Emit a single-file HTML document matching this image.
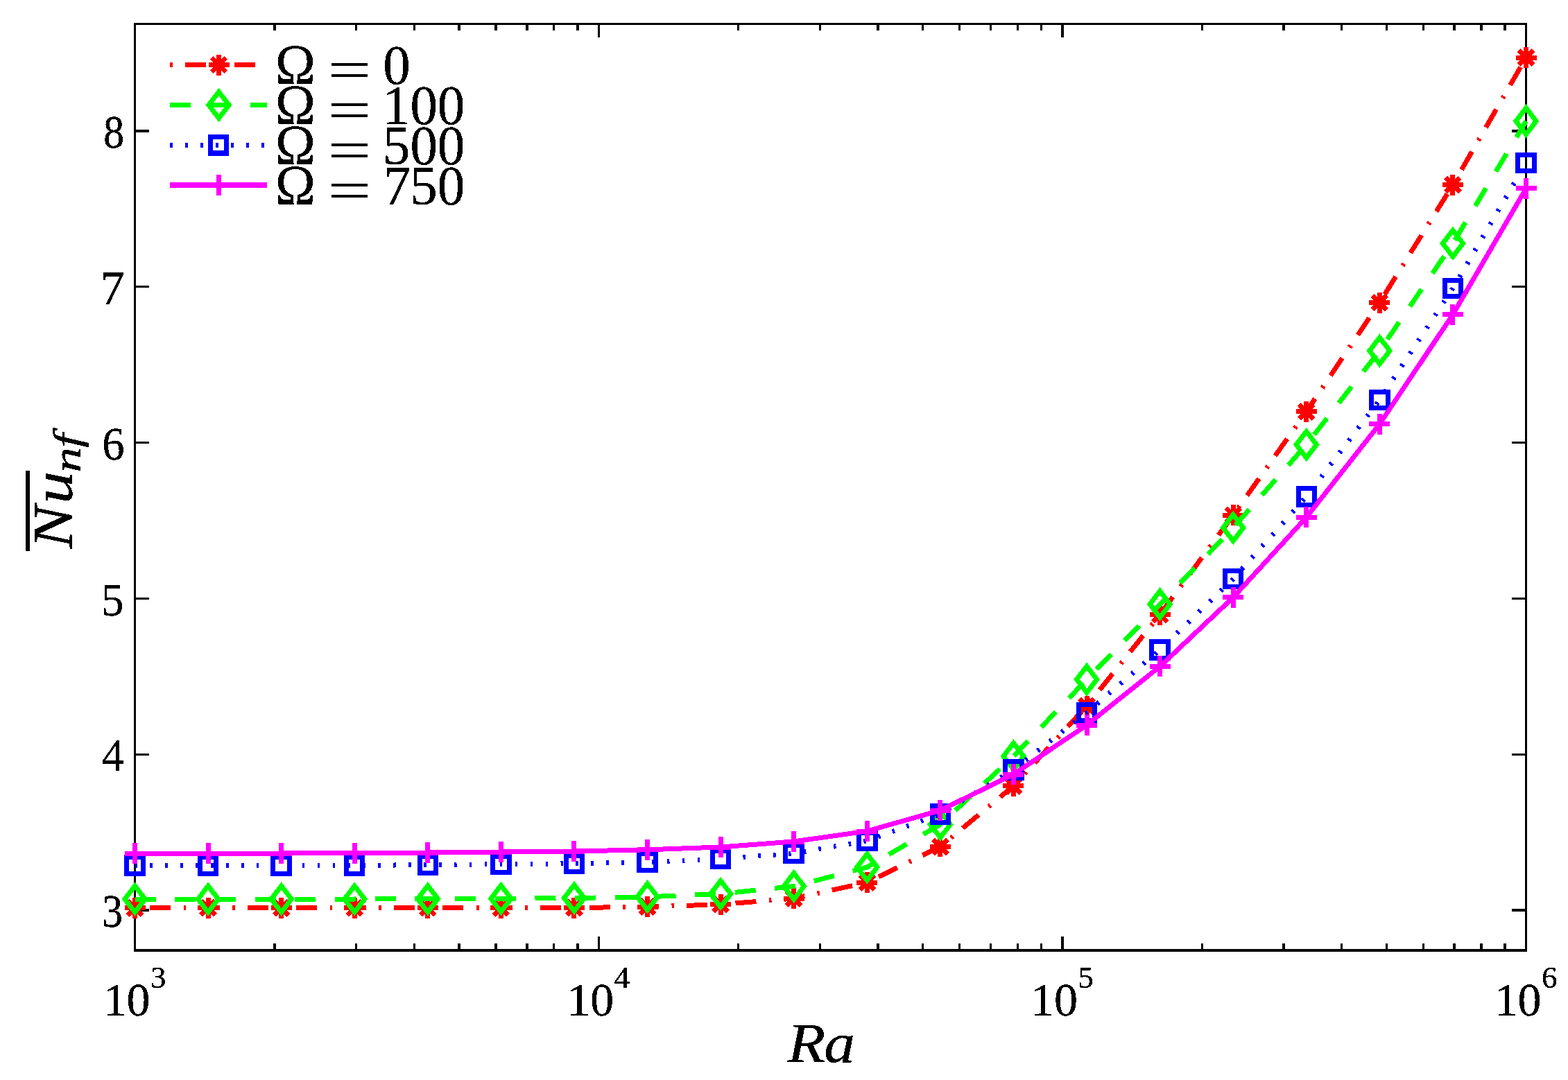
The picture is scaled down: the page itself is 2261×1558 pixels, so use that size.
<!DOCTYPE html>
<html lang="en"><head><meta charset="utf-8"><title>Average Nusselt number versus Ra</title>
<style>
html,body{margin:0;padding:0;background:#fff}
body{width:2261px;height:1558px}
svg{display:block}
.t{font-family:"Liberation Serif","DejaVu Serif",serif;fill:#000}
.i{font-style:italic}
</style></head><body>
<svg width="2261" height="1558" viewBox="0 0 2261 1558">
<defs><filter id="bw" x="0" y="0" width="2261" height="1558" filterUnits="userSpaceOnUse" color-interpolation-filters="sRGB"><feComponentTransfer><feFuncA type="discrete" tableValues="0 1 1 1"/></feComponentTransfer></filter></defs>
<rect width="2261" height="1558" fill="#fff"/>
<g id="axes" fill="#000" shape-rendering="crispEdges">
<rect x="193" y="33" width="3" height="1340"/>
<rect x="2199" y="33" width="3" height="1340"/>
<rect x="193" y="33" width="2009" height="3"/>
<rect x="193" y="1369" width="2009" height="4"/>
<rect x="394.34" y="1361" width="3.4" height="10"/>
<rect x="394.34" y="34" width="3.4" height="10"/>
<rect x="512.09" y="1361" width="3.4" height="10"/>
<rect x="512.09" y="34" width="3.4" height="10"/>
<rect x="595.63" y="1361" width="3.4" height="10"/>
<rect x="595.63" y="34" width="3.4" height="10"/>
<rect x="660.43" y="1361" width="3.4" height="10"/>
<rect x="660.43" y="34" width="3.4" height="10"/>
<rect x="713.37" y="1361" width="3.4" height="10"/>
<rect x="713.37" y="34" width="3.4" height="10"/>
<rect x="758.14" y="1361" width="3.4" height="10"/>
<rect x="758.14" y="34" width="3.4" height="10"/>
<rect x="796.92" y="1361" width="3.4" height="10"/>
<rect x="796.92" y="34" width="3.4" height="10"/>
<rect x="831.12" y="1361" width="3.4" height="10"/>
<rect x="831.12" y="34" width="3.4" height="10"/>
<rect x="861.72" y="1351" width="3.4" height="20"/>
<rect x="861.72" y="34" width="3.4" height="20"/>
<rect x="1063.01" y="1361" width="3.4" height="10"/>
<rect x="1063.01" y="34" width="3.4" height="10"/>
<rect x="1180.75" y="1361" width="3.4" height="10"/>
<rect x="1180.75" y="34" width="3.4" height="10"/>
<rect x="1264.29" y="1361" width="3.4" height="10"/>
<rect x="1264.29" y="34" width="3.4" height="10"/>
<rect x="1329.09" y="1361" width="3.4" height="10"/>
<rect x="1329.09" y="34" width="3.4" height="10"/>
<rect x="1382.04" y="1361" width="3.4" height="10"/>
<rect x="1382.04" y="34" width="3.4" height="10"/>
<rect x="1426.81" y="1361" width="3.4" height="10"/>
<rect x="1426.81" y="34" width="3.4" height="10"/>
<rect x="1465.58" y="1361" width="3.4" height="10"/>
<rect x="1465.58" y="34" width="3.4" height="10"/>
<rect x="1499.79" y="1361" width="3.4" height="10"/>
<rect x="1499.79" y="34" width="3.4" height="10"/>
<rect x="1530.38" y="1351" width="3.4" height="20"/>
<rect x="1530.38" y="34" width="3.4" height="20"/>
<rect x="1731.67" y="1361" width="3.4" height="10"/>
<rect x="1731.67" y="34" width="3.4" height="10"/>
<rect x="1849.42" y="1361" width="3.4" height="10"/>
<rect x="1849.42" y="34" width="3.4" height="10"/>
<rect x="1932.96" y="1361" width="3.4" height="10"/>
<rect x="1932.96" y="34" width="3.4" height="10"/>
<rect x="1997.76" y="1361" width="3.4" height="10"/>
<rect x="1997.76" y="34" width="3.4" height="10"/>
<rect x="2050.71" y="1361" width="3.4" height="10"/>
<rect x="2050.71" y="34" width="3.4" height="10"/>
<rect x="2095.47" y="1361" width="3.4" height="10"/>
<rect x="2095.47" y="34" width="3.4" height="10"/>
<rect x="2134.25" y="1361" width="3.4" height="10"/>
<rect x="2134.25" y="34" width="3.4" height="10"/>
<rect x="2168.45" y="1361" width="3.4" height="10"/>
<rect x="2168.45" y="34" width="3.4" height="10"/>
<rect x="194" y="187" width="21" height="4"/>
<rect x="2180" y="187" width="21" height="4"/>
<rect x="194" y="412" width="21" height="3"/>
<rect x="2180" y="412" width="21" height="3"/>
<rect x="194" y="637" width="21" height="3"/>
<rect x="2180" y="637" width="21" height="3"/>
<rect x="194" y="862" width="21" height="3"/>
<rect x="2180" y="862" width="21" height="3"/>
<rect x="194" y="1087" width="21" height="3"/>
<rect x="2180" y="1087" width="21" height="3"/>
<rect x="194" y="1311" width="21" height="4"/>
<rect x="2180" y="1311" width="21" height="4"/>
</g>
<g id="ticklabels" class="t" filter="url(#bw)">
<text transform="matrix(0.8740 0 0 0.9913 149.14 212.93)" font-size="68">8</text>
<text transform="matrix(1.0421 0 0 1.0216 144.52 438.80)" font-size="68">7</text>
<text transform="matrix(0.9505 0 0 1.0067 147.32 663.02)" font-size="68">6</text>
<text transform="matrix(0.9451 0 0 1.0084 146.37 888.21)" font-size="68">5</text>
<text transform="matrix(0.9445 0 0 0.9968 146.82 1111.80)" font-size="68">4</text>
<text transform="matrix(0.8795 0 0 1.0001 147.23 1337.22)" font-size="68">3</text>
<text x="148.9 182.6" y="1465" font-size="68">10<tspan x="216.9" dy="-40.3" font-size="45">3</tspan></text>
<text x="817.57 851.27" y="1465" font-size="68">10<tspan x="885.57" dy="-40.3" font-size="45">4</tspan></text>
<text x="1486.23 1519.93" y="1465" font-size="68">10<tspan x="1554.23" dy="-40.3" font-size="45">5</tspan></text>
<text x="2154.9 2188.6" y="1465" font-size="68">10<tspan x="2222.9" dy="-40.3" font-size="45">6</tspan></text>
</g>
<g id="axislabels" class="t i" filter="url(#bw)">
<text transform="matrix(1.1200 0 0 0.9938 1135.51 1532.00)" x="0 47.05" y="0" font-size="80">Ra</text>
<g transform="translate(103.4 800) rotate(-90)">
<text transform="matrix(1.1750 0 0 0.9938 8.32 -0.20)" x="0 55.34" y="0" font-size="80">Nu</text><text transform="matrix(1.3000 0 0 0.9750 118.62 11.80)" x="0 27.4" y="0" font-size="56">nf</text>
<rect x="5" y="-66.4" width="116" height="5" fill="#000" shape-rendering="crispEdges"/>
</g>
</g>
<g id="data" shape-rendering="crispEdges" stroke-linecap="butt" stroke-linejoin="miter">
<g>
<polyline points="194.5,1309.8 300.08,1309.8 405.66,1309.8 511.24,1309.8 616.82,1309.8 722.39,1309.8 827.97,1309.6 933.55,1308.1 1039.13,1304.8 1144.71,1296 1250.29,1273 1355.87,1221.4 1461.45,1133.8 1567.03,1018.5 1672.61,886.6 1778.18,743.2 1883.76,593.8 1989.34,436.5 2094.92,266.8 2200.5,83" fill="none" stroke="#f00" stroke-width="7" stroke-dasharray="3.5 18.25 30 18.62"/>
<path d="M179.5 1309.8H209.5M194.5 1294.8V1324.8M184.1 1299.4L204.9 1320.2M184.1 1320.2L204.9 1299.4" stroke="#f00" stroke-width="7" fill="none"/>
<path d="M285.08 1309.8H315.08M300.08 1294.8V1324.8M289.68 1299.4L310.48 1320.2M289.68 1320.2L310.48 1299.4" stroke="#f00" stroke-width="7" fill="none"/>
<path d="M390.66 1309.8H420.66M405.66 1294.8V1324.8M395.26 1299.4L416.06 1320.2M395.26 1320.2L416.06 1299.4" stroke="#f00" stroke-width="7" fill="none"/>
<path d="M496.24 1309.8H526.24M511.24 1294.8V1324.8M500.84 1299.4L521.64 1320.2M500.84 1320.2L521.64 1299.4" stroke="#f00" stroke-width="7" fill="none"/>
<path d="M601.82 1309.8H631.82M616.82 1294.8V1324.8M606.42 1299.4L627.22 1320.2M606.42 1320.2L627.22 1299.4" stroke="#f00" stroke-width="7" fill="none"/>
<path d="M707.39 1309.8H737.39M722.39 1294.8V1324.8M711.99 1299.4L732.79 1320.2M711.99 1320.2L732.79 1299.4" stroke="#f00" stroke-width="7" fill="none"/>
<path d="M812.97 1309.6H842.97M827.97 1294.6V1324.6M817.57 1299.2L838.37 1320M817.57 1320L838.37 1299.2" stroke="#f00" stroke-width="7" fill="none"/>
<path d="M918.55 1308.1H948.55M933.55 1293.1V1323.1M923.15 1297.7L943.95 1318.5M923.15 1318.5L943.95 1297.7" stroke="#f00" stroke-width="7" fill="none"/>
<path d="M1024.13 1304.8H1054.13M1039.13 1289.8V1319.8M1028.73 1294.4L1049.53 1315.2M1028.73 1315.2L1049.53 1294.4" stroke="#f00" stroke-width="7" fill="none"/>
<path d="M1129.71 1296H1159.71M1144.71 1281V1311M1134.31 1285.6L1155.11 1306.4M1134.31 1306.4L1155.11 1285.6" stroke="#f00" stroke-width="7" fill="none"/>
<path d="M1235.29 1273H1265.29M1250.29 1258V1288M1239.89 1262.6L1260.69 1283.4M1239.89 1283.4L1260.69 1262.6" stroke="#f00" stroke-width="7" fill="none"/>
<path d="M1340.87 1221.4H1370.87M1355.87 1206.4V1236.4M1345.47 1211L1366.27 1231.8M1345.47 1231.8L1366.27 1211" stroke="#f00" stroke-width="7" fill="none"/>
<path d="M1446.45 1133.8H1476.45M1461.45 1118.8V1148.8M1451.05 1123.4L1471.85 1144.2M1451.05 1144.2L1471.85 1123.4" stroke="#f00" stroke-width="7" fill="none"/>
<path d="M1552.03 1018.5H1582.03M1567.03 1003.5V1033.5M1556.63 1008.1L1577.43 1028.9M1556.63 1028.9L1577.43 1008.1" stroke="#f00" stroke-width="7" fill="none"/>
<path d="M1657.61 886.6H1687.61M1672.61 871.6V901.6M1662.21 876.2L1683.01 897M1662.21 897L1683.01 876.2" stroke="#f00" stroke-width="7" fill="none"/>
<path d="M1763.18 743.2H1793.18M1778.18 728.2V758.2M1767.78 732.8L1788.58 753.6M1767.78 753.6L1788.58 732.8" stroke="#f00" stroke-width="7" fill="none"/>
<path d="M1868.76 593.8H1898.76M1883.76 578.8V608.8M1873.36 583.4L1894.16 604.2M1873.36 604.2L1894.16 583.4" stroke="#f00" stroke-width="7" fill="none"/>
<path d="M1974.34 436.5H2004.34M1989.34 421.5V451.5M1978.94 426.1L1999.74 446.9M1978.94 446.9L1999.74 426.1" stroke="#f00" stroke-width="7" fill="none"/>
<path d="M2079.92 266.8H2109.92M2094.92 251.8V281.8M2084.52 256.4L2105.32 277.2M2084.52 277.2L2105.32 256.4" stroke="#f00" stroke-width="7" fill="none"/>
<path d="M2185.5 83H2215.5M2200.5 68V98M2190.1 72.6L2210.9 93.4M2190.1 93.4L2210.9 72.6" stroke="#f00" stroke-width="7" fill="none"/>
</g>
<g>
<polyline points="194.5,1297 300.08,1297 405.66,1297 511.24,1297 616.82,1296.7 722.39,1296.3 827.97,1295.5 933.55,1293.8 1039.13,1289.5 1144.71,1278.5 1250.29,1251 1355.87,1189.3 1461.45,1091 1567.03,980.2 1672.61,871.7 1778.18,761.4 1883.76,641.4 1989.34,506 2094.92,351.2 2200.5,174.8" fill="none" stroke="#0f0" stroke-width="7" stroke-dasharray="30 27.7"/>
<path d="M194.5 1278L209.1 1297L194.5 1316L179.9 1297Z" stroke="#0f0" stroke-width="7" stroke-miterlimit="10" fill="none"/>
<path d="M300.08 1278L314.68 1297L300.08 1316L285.48 1297Z" stroke="#0f0" stroke-width="7" stroke-miterlimit="10" fill="none"/>
<path d="M405.66 1278L420.26 1297L405.66 1316L391.06 1297Z" stroke="#0f0" stroke-width="7" stroke-miterlimit="10" fill="none"/>
<path d="M511.24 1278L525.84 1297L511.24 1316L496.64 1297Z" stroke="#0f0" stroke-width="7" stroke-miterlimit="10" fill="none"/>
<path d="M616.82 1277.7L631.42 1296.7L616.82 1315.7L602.22 1296.7Z" stroke="#0f0" stroke-width="7" stroke-miterlimit="10" fill="none"/>
<path d="M722.39 1277.3L736.99 1296.3L722.39 1315.3L707.79 1296.3Z" stroke="#0f0" stroke-width="7" stroke-miterlimit="10" fill="none"/>
<path d="M827.97 1276.5L842.57 1295.5L827.97 1314.5L813.37 1295.5Z" stroke="#0f0" stroke-width="7" stroke-miterlimit="10" fill="none"/>
<path d="M933.55 1274.8L948.15 1293.8L933.55 1312.8L918.95 1293.8Z" stroke="#0f0" stroke-width="7" stroke-miterlimit="10" fill="none"/>
<path d="M1039.13 1270.5L1053.73 1289.5L1039.13 1308.5L1024.53 1289.5Z" stroke="#0f0" stroke-width="7" stroke-miterlimit="10" fill="none"/>
<path d="M1144.71 1259.5L1159.31 1278.5L1144.71 1297.5L1130.11 1278.5Z" stroke="#0f0" stroke-width="7" stroke-miterlimit="10" fill="none"/>
<path d="M1250.29 1232L1264.89 1251L1250.29 1270L1235.69 1251Z" stroke="#0f0" stroke-width="7" stroke-miterlimit="10" fill="none"/>
<path d="M1355.87 1170.3L1370.47 1189.3L1355.87 1208.3L1341.27 1189.3Z" stroke="#0f0" stroke-width="7" stroke-miterlimit="10" fill="none"/>
<path d="M1461.45 1072L1476.05 1091L1461.45 1110L1446.85 1091Z" stroke="#0f0" stroke-width="7" stroke-miterlimit="10" fill="none"/>
<path d="M1567.03 961.2L1581.63 980.2L1567.03 999.2L1552.43 980.2Z" stroke="#0f0" stroke-width="7" stroke-miterlimit="10" fill="none"/>
<path d="M1672.61 852.7L1687.21 871.7L1672.61 890.7L1658.01 871.7Z" stroke="#0f0" stroke-width="7" stroke-miterlimit="10" fill="none"/>
<path d="M1778.18 742.4L1792.78 761.4L1778.18 780.4L1763.58 761.4Z" stroke="#0f0" stroke-width="7" stroke-miterlimit="10" fill="none"/>
<path d="M1883.76 622.4L1898.36 641.4L1883.76 660.4L1869.16 641.4Z" stroke="#0f0" stroke-width="7" stroke-miterlimit="10" fill="none"/>
<path d="M1989.34 487L2003.94 506L1989.34 525L1974.74 506Z" stroke="#0f0" stroke-width="7" stroke-miterlimit="10" fill="none"/>
<path d="M2094.92 332.2L2109.52 351.2L2094.92 370.2L2080.32 351.2Z" stroke="#0f0" stroke-width="7" stroke-miterlimit="10" fill="none"/>
<path d="M2200.5 155.8L2215.1 174.8L2200.5 193.8L2185.9 174.8Z" stroke="#0f0" stroke-width="7" stroke-miterlimit="10" fill="none"/>
</g>
<g>
<polyline points="194.5,1248.5 300.08,1248.5 405.66,1248.5 511.24,1248.5 616.82,1247.6 722.39,1246.8 827.97,1245.8 933.55,1243.6 1039.13,1239 1144.71,1231 1250.29,1213 1355.87,1174.4 1461.45,1110.3 1567.03,1028 1672.61,937.3 1778.18,835 1883.76,716.5 1989.34,576.8 2094.92,416 2200.5,235.1" fill="none" stroke="#00f" stroke-width="7" stroke-dasharray="3.5 18.43"/>
<rect x="182.75" y="1236.75" width="23.5" height="23.5" stroke="#00f" stroke-width="7" fill="none"/>
<rect x="288.33" y="1236.75" width="23.5" height="23.5" stroke="#00f" stroke-width="7" fill="none"/>
<rect x="393.91" y="1236.75" width="23.5" height="23.5" stroke="#00f" stroke-width="7" fill="none"/>
<rect x="499.49" y="1236.75" width="23.5" height="23.5" stroke="#00f" stroke-width="7" fill="none"/>
<rect x="605.07" y="1235.85" width="23.5" height="23.5" stroke="#00f" stroke-width="7" fill="none"/>
<rect x="710.64" y="1235.05" width="23.5" height="23.5" stroke="#00f" stroke-width="7" fill="none"/>
<rect x="816.22" y="1234.05" width="23.5" height="23.5" stroke="#00f" stroke-width="7" fill="none"/>
<rect x="921.8" y="1231.85" width="23.5" height="23.5" stroke="#00f" stroke-width="7" fill="none"/>
<rect x="1027.38" y="1227.25" width="23.5" height="23.5" stroke="#00f" stroke-width="7" fill="none"/>
<rect x="1132.96" y="1219.25" width="23.5" height="23.5" stroke="#00f" stroke-width="7" fill="none"/>
<rect x="1238.54" y="1201.25" width="23.5" height="23.5" stroke="#00f" stroke-width="7" fill="none"/>
<rect x="1344.12" y="1162.65" width="23.5" height="23.5" stroke="#00f" stroke-width="7" fill="none"/>
<rect x="1449.7" y="1098.55" width="23.5" height="23.5" stroke="#00f" stroke-width="7" fill="none"/>
<rect x="1555.28" y="1016.25" width="23.5" height="23.5" stroke="#00f" stroke-width="7" fill="none"/>
<rect x="1660.86" y="925.55" width="23.5" height="23.5" stroke="#00f" stroke-width="7" fill="none"/>
<rect x="1766.43" y="823.25" width="23.5" height="23.5" stroke="#00f" stroke-width="7" fill="none"/>
<rect x="1872.01" y="704.75" width="23.5" height="23.5" stroke="#00f" stroke-width="7" fill="none"/>
<rect x="1977.59" y="565.05" width="23.5" height="23.5" stroke="#00f" stroke-width="7" fill="none"/>
<rect x="2083.17" y="404.25" width="23.5" height="23.5" stroke="#00f" stroke-width="7" fill="none"/>
<rect x="2188.75" y="223.35" width="23.5" height="23.5" stroke="#00f" stroke-width="7" fill="none"/>
</g>
<g>
<polyline points="194.5,1231.2 300.08,1231.1 405.66,1231 511.24,1230.6 616.82,1230 722.39,1229 827.97,1228 933.55,1225.8 1039.13,1222 1144.71,1214 1250.29,1199 1355.87,1169 1461.45,1117 1567.03,1046 1672.61,961.3 1778.18,861.8 1883.76,746.2 1989.34,611.7 2094.92,453.8 2200.5,271.9" fill="none" stroke="#f0f" stroke-width="7"/>
<path d="M179.5 1231.2H209.5M194.5 1216.2V1246.2" stroke="#f0f" stroke-width="7" fill="none"/>
<path d="M285.08 1231.1H315.08M300.08 1216.1V1246.1" stroke="#f0f" stroke-width="7" fill="none"/>
<path d="M390.66 1231H420.66M405.66 1216V1246" stroke="#f0f" stroke-width="7" fill="none"/>
<path d="M496.24 1230.6H526.24M511.24 1215.6V1245.6" stroke="#f0f" stroke-width="7" fill="none"/>
<path d="M601.82 1230H631.82M616.82 1215V1245" stroke="#f0f" stroke-width="7" fill="none"/>
<path d="M707.39 1229H737.39M722.39 1214V1244" stroke="#f0f" stroke-width="7" fill="none"/>
<path d="M812.97 1228H842.97M827.97 1213V1243" stroke="#f0f" stroke-width="7" fill="none"/>
<path d="M918.55 1225.8H948.55M933.55 1210.8V1240.8" stroke="#f0f" stroke-width="7" fill="none"/>
<path d="M1024.13 1222H1054.13M1039.13 1207V1237" stroke="#f0f" stroke-width="7" fill="none"/>
<path d="M1129.71 1214H1159.71M1144.71 1199V1229" stroke="#f0f" stroke-width="7" fill="none"/>
<path d="M1235.29 1199H1265.29M1250.29 1184V1214" stroke="#f0f" stroke-width="7" fill="none"/>
<path d="M1340.87 1169H1370.87M1355.87 1154V1184" stroke="#f0f" stroke-width="7" fill="none"/>
<path d="M1446.45 1117H1476.45M1461.45 1102V1132" stroke="#f0f" stroke-width="7" fill="none"/>
<path d="M1552.03 1046H1582.03M1567.03 1031V1061" stroke="#f0f" stroke-width="7" fill="none"/>
<path d="M1657.61 961.3H1687.61M1672.61 946.3V976.3" stroke="#f0f" stroke-width="7" fill="none"/>
<path d="M1763.18 861.8H1793.18M1778.18 846.8V876.8" stroke="#f0f" stroke-width="7" fill="none"/>
<path d="M1868.76 746.2H1898.76M1883.76 731.2V761.2" stroke="#f0f" stroke-width="7" fill="none"/>
<path d="M1974.34 611.7H2004.34M1989.34 596.7V626.7" stroke="#f0f" stroke-width="7" fill="none"/>
<path d="M2079.92 453.8H2109.92M2094.92 438.8V468.8" stroke="#f0f" stroke-width="7" fill="none"/>
<path d="M2185.5 271.9H2215.5M2200.5 256.9V286.9" stroke="#f0f" stroke-width="7" fill="none"/>
</g>
</g>
<g id="legend">
<g shape-rendering="crispEdges" stroke-linecap="butt" stroke-linejoin="miter">
<path d="M244.8 93.5H385" stroke="#f00" stroke-width="7" fill="none" stroke-dasharray="4 18 30 19"/>
<path d="M300.5 93.5H330.5M315.5 78.5V108.5M305.1 83.1L325.9 103.9M305.1 103.9L325.9 83.1" stroke="#f00" stroke-width="7" fill="none"/>
<path d="M244.8 151.5H385" stroke="#0f0" stroke-width="7" fill="none" stroke-dasharray="30 28"/>
<path d="M315.5 132.5L330.1 151.5L315.5 170.5L300.9 151.5Z" stroke="#0f0" stroke-width="7" stroke-miterlimit="10" fill="none"/>
<path d="M244.8 209.5H385" stroke="#00f" stroke-width="7" fill="none" stroke-dasharray="4 18.05"/>
<path d="M300 194h30v31h-30zM307 201v16h16v-16z" fill="#00f" fill-rule="evenodd"/>
<rect x="311" y="206" width="4" height="7" fill="#00f"/>
<path d="M244.8 267H385" stroke="#f0f" stroke-width="8" fill="none"/>
<path d="M300.5 267H330.5M315.5 252V282" stroke="#f0f" stroke-width="7" fill="none"/>
</g>
<g class="t" filter="url(#bw)">
<text transform="matrix(0.9722 0 0 1.0347 397.06 120.80)" font-size="80">Ω</text>
<text transform="matrix(1.3925 0 0 0.9750 472.43 127.05)" font-size="80">=</text>
<text transform="matrix(0.9875 0 0 1.0000 552.15 120.80)" x="0" y="0" font-size="80">0</text>
<text transform="matrix(0.9722 0 0 1.0347 397.06 178.90)" font-size="80">Ω</text>
<text transform="matrix(1.3925 0 0 0.9750 472.43 185.15)" font-size="80">=</text>
<text transform="matrix(0.9875 0 0 1.0000 551.59 178.90)" x="0 40.36 80.16" y="0" font-size="80">100</text>
<text transform="matrix(0.9722 0 0 1.0347 397.06 236.90)" font-size="80">Ω</text>
<text transform="matrix(1.3925 0 0 0.9750 472.43 243.15)" font-size="80">=</text>
<text transform="matrix(0.9875 0 0 1.0000 551.85 236.90)" x="0 40.1 79.9" y="0" font-size="80">500</text>
<text transform="matrix(0.9722 0 0 1.0347 397.06 294.60)" font-size="80">Ω</text>
<text transform="matrix(1.3925 0 0 0.9750 472.43 300.85)" font-size="80">=</text>
<text transform="matrix(0.9875 0 0 1.0000 552.74 294.60)" x="0 38.9 79" y="0" font-size="80">750</text>
</g>
</g>
</svg>
</body></html>
